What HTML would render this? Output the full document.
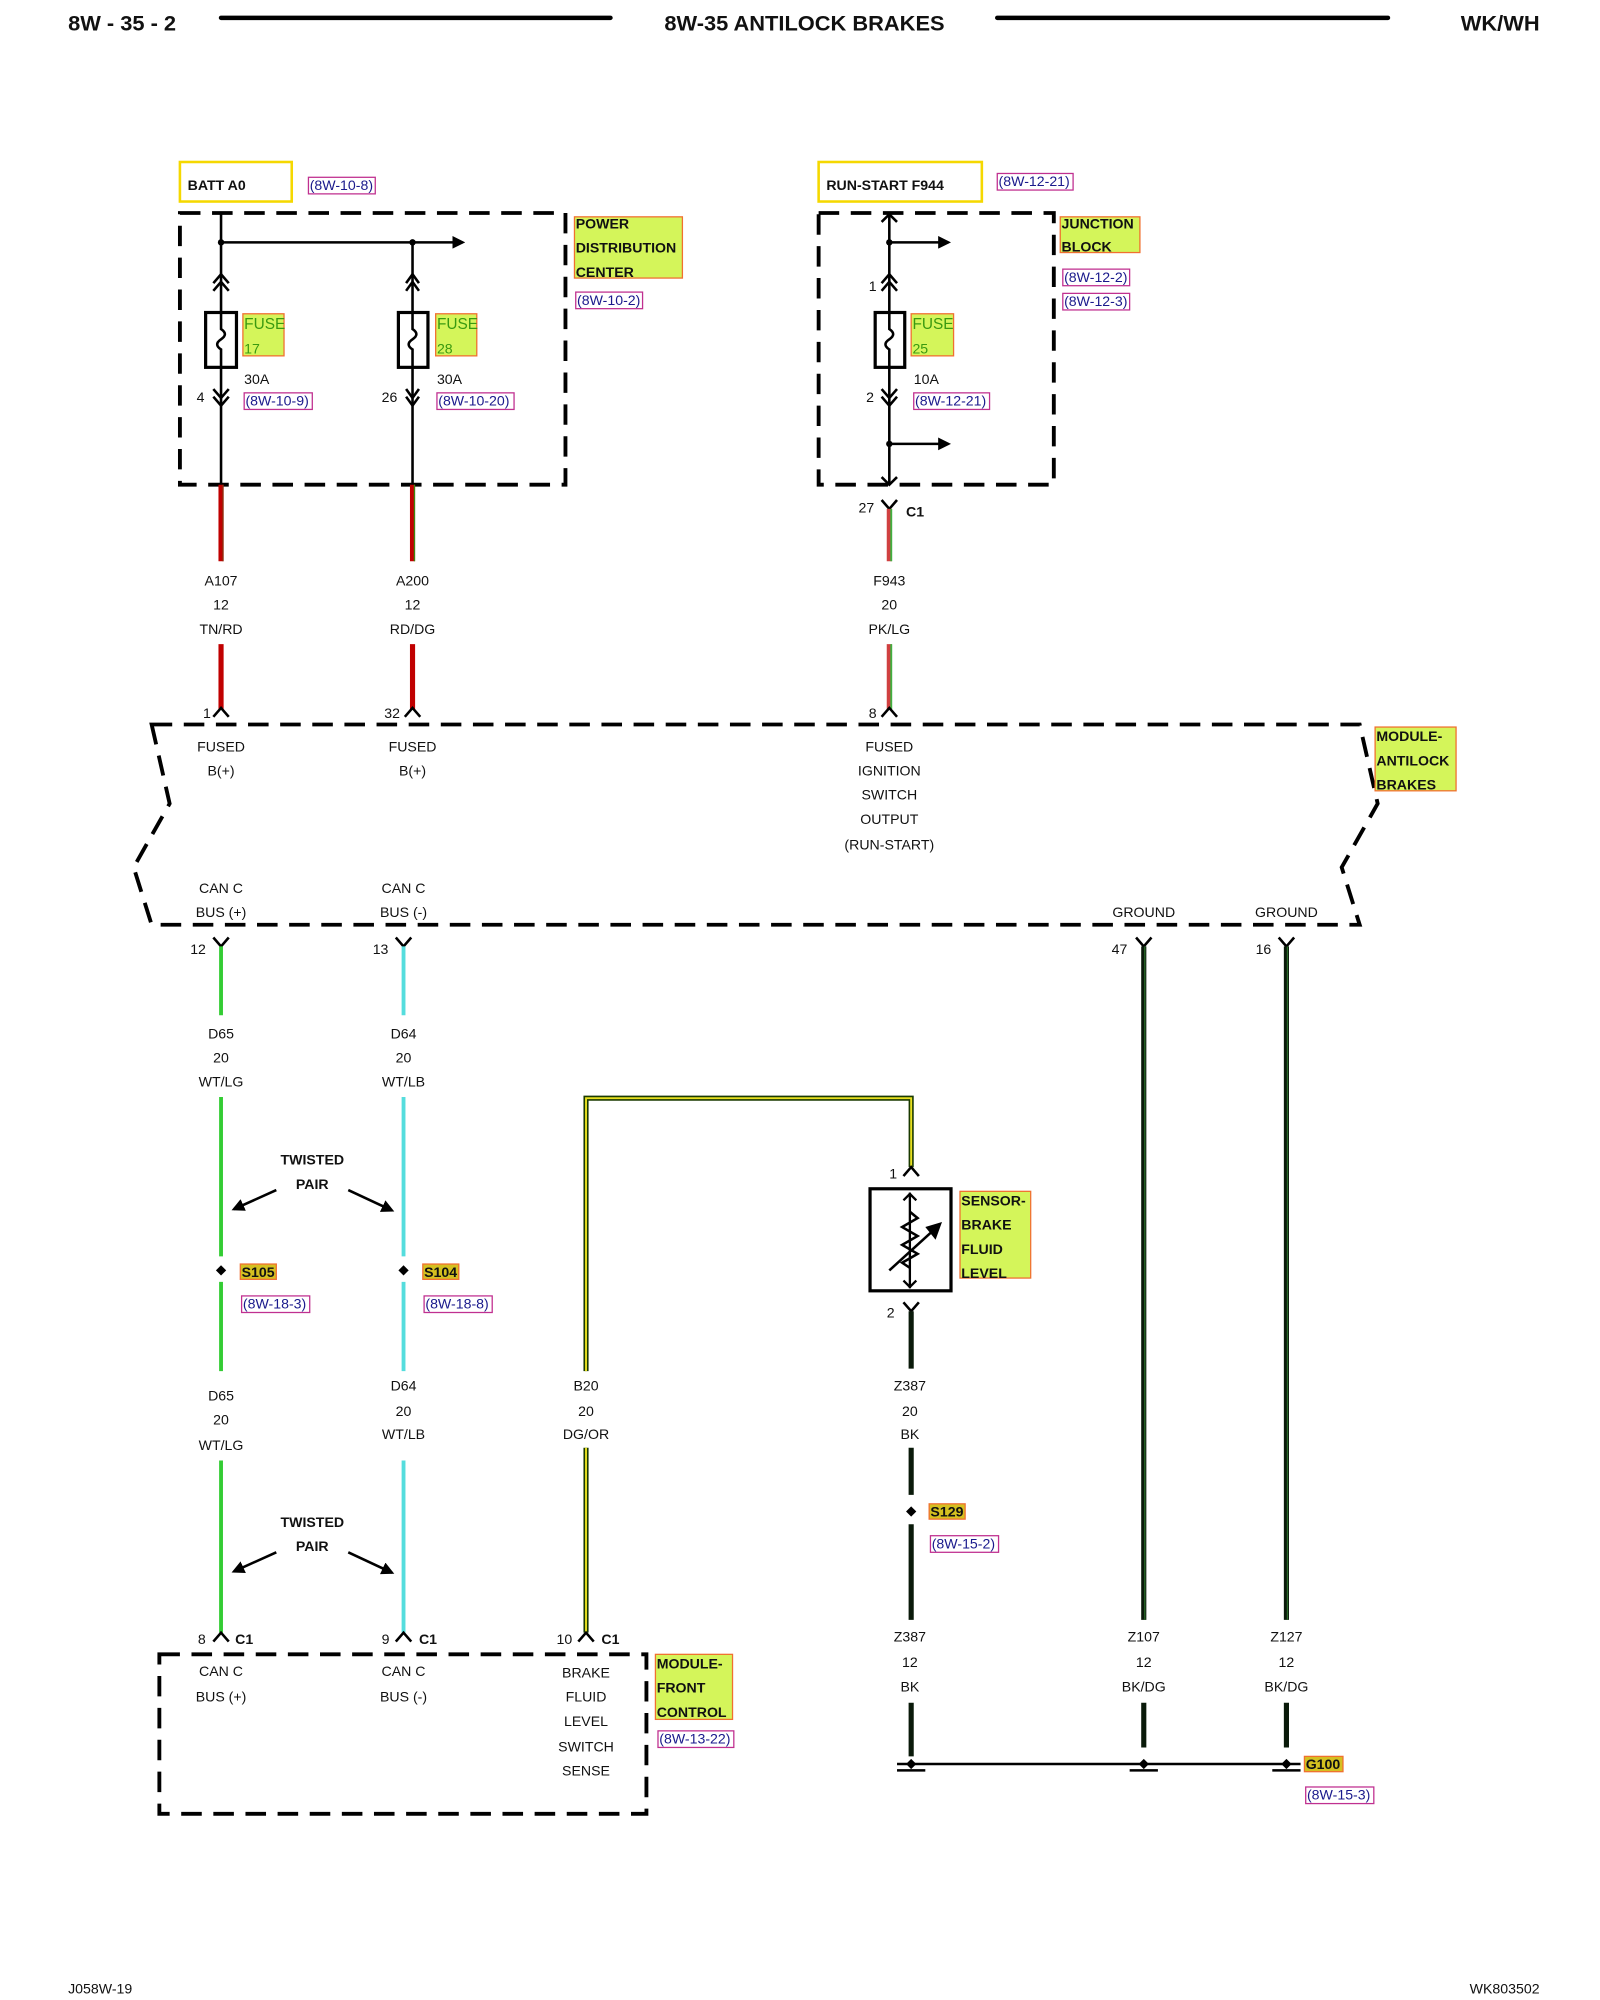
<!DOCTYPE html>
<html><head><meta charset="utf-8"><style>
html,body{margin:0;padding:0;background:#fff;width:1600px;height:2000px;overflow:hidden}
svg{display:block}
text{font-family:"Liberation Sans",sans-serif;fill:#111}
.b{font-weight:bold}
.c{text-anchor:middle}
.r{fill:#1a1a8c;font-size:11px}
.lb{font-size:11px;font-weight:bold}
</style></head><body>
<svg width="1600" height="2000" viewBox="0 0 1245 1568" preserveAspectRatio="none" xmlns="http://www.w3.org/2000/svg">
<defs>
<marker id="ah" markerWidth="10" markerHeight="10" refX="8" refY="5" orient="auto" markerUnits="userSpaceOnUse"><path d="M0,0 L10,5 L0,10 z" fill="#000"/></marker>
</defs>
<text x="53" y="24" class="b" font-size="17">8W - 35 - 2</text>
<line x1="172" y1="14" x2="475" y2="14" stroke="#000" stroke-width="3.5" stroke-linecap="round"/>
<text x="626" y="24" class="b c" font-size="17">8W-35 ANTILOCK BRAKES</text>
<line x1="776" y1="14" x2="1080" y2="14" stroke="#000" stroke-width="3.5" stroke-linecap="round"/>
<text x="1198" y="24" class="b" font-size="17" text-anchor="end">WK/WH</text>
<text x="53" y="1563" font-size="11">J058W-19</text>
<text x="1198" y="1563" font-size="11" text-anchor="end">WK803502</text>

<rect x="140" y="127" width="87" height="31" fill="#fff" stroke="#f5d800" stroke-width="2"/>
<text x="146" y="149" class="lb">BATT A0</text>
<rect x="240" y="139" width="52" height="13" fill="none" stroke="#c03090" stroke-width="1"/>
<text x="241" y="149" class="r">(8W-10-8)</text>
<rect x="140" y="167" width="300" height="213" fill="none" stroke="#000" stroke-width="3" stroke-dasharray="16,9"/>
<line x1="172" y1="190" x2="360" y2="190" stroke="#000" stroke-width="2" marker-end="url(#ah)"/>
<circle cx="172" cy="190" r="2.5"/><circle cx="321" cy="190" r="2.5"/>
<g stroke="#000" fill="none" stroke-width="2">
<line x1="172" y1="167" x2="172" y2="380"/><line x1="321" y1="190" x2="321" y2="380"/>
<polyline points="166,222 172,215 178,222"/><polyline points="166,228 172,221 178,228"/>
<polyline points="316,222 321,215 326,222"/><polyline points="316,228 321,221 326,228"/>
<polyline points="166,305 172,312 178,305"/><polyline points="166,311 172,318 178,311"/>
<polyline points="316,305 321,312 326,305"/><polyline points="316,311 321,318 326,311"/>
<rect x="160" y="245" width="24" height="43" fill="#fff" stroke-width="2.5"/>
<rect x="310" y="245" width="23" height="43" fill="#fff" stroke-width="2.5"/>
<path d="M172,245 V258 q6,4 0,8 q-6,4 0,8 V288"/><path d="M321,245 V258 q6,4 0,8 q-6,4 0,8 V288"/>
</g>
<rect x="189" y="246" width="32" height="33" fill="#d4f55a" stroke="#f07030"/>
<text x="190" y="258" font-size="12" style="fill:#3a9a10">FUSE</text><text x="190" y="277" font-size="11" style="fill:#3a9a10">17</text>
<rect x="339" y="246" width="32" height="33" fill="#d4f55a" stroke="#f07030"/>
<text x="340" y="258" font-size="12" style="fill:#3a9a10">FUSE</text><text x="340" y="277" font-size="11" style="fill:#3a9a10">28</text>
<text x="190" y="301" font-size="11">30A</text><text x="340" y="301" font-size="11">30A</text>
<rect x="190" y="308" width="53" height="13" fill="none" stroke="#c03090"/><text x="191" y="318" class="r">(8W-10-9)</text>
<rect x="340" y="308" width="60" height="13" fill="none" stroke="#c03090"/><text x="341" y="318" class="r">(8W-10-20)</text>
<text x="153" y="315" font-size="11">4</text><text x="297" y="315" font-size="11">26</text>
<rect x="447" y="170" width="84" height="48" fill="#d4f55a" stroke="#f07030"/>
<text x="448" y="179" class="lb">POWER</text><text x="448" y="198" class="lb">DISTRIBUTION</text><text x="448" y="217" class="lb">CENTER</text>
<rect x="448" y="229" width="52" height="13" fill="none" stroke="#c03090"/><text x="449" y="239" class="r">(8W-10-2)</text>

<rect x="637" y="127" width="127" height="31" fill="#fff" stroke="#f5d800" stroke-width="2"/>
<text x="643" y="149" class="lb">RUN-START F944</text>
<rect x="776" y="136" width="59" height="13" fill="none" stroke="#c03090"/><text x="777" y="146" class="r">(8W-12-21)</text>
<rect x="637" y="167" width="183" height="213" fill="none" stroke="#000" stroke-width="3" stroke-dasharray="16,9"/>
<g stroke="#000" fill="none" stroke-width="2">
<line x1="692" y1="168" x2="692" y2="380"/>
<polyline points="686,174 692,168 698,174"/>
<polyline points="686,374 692,380 698,374"/>
<polyline points="686,222 692,215 698,222"/><polyline points="686,228 692,221 698,228"/>
<polyline points="686,305 692,312 698,305"/><polyline points="686,311 692,318 698,311"/>
<rect x="681" y="245" width="23" height="43" fill="#fff" stroke-width="2.5"/>
<path d="M692,245 V258 q6,4 0,8 q-6,4 0,8 V288"/>
</g>
<line x1="692" y1="190" x2="738" y2="190" stroke="#000" stroke-width="2" marker-end="url(#ah)"/>
<line x1="692" y1="348" x2="738" y2="348" stroke="#000" stroke-width="2" marker-end="url(#ah)"/>
<circle cx="692" cy="190" r="2.5"/><circle cx="692" cy="348" r="2.5"/>
<rect x="709" y="246" width="33" height="33" fill="#d4f55a" stroke="#f07030"/>
<text x="710" y="258" font-size="12" style="fill:#3a9a10">FUSE</text><text x="710" y="277" font-size="11" style="fill:#3a9a10">25</text>
<text x="711" y="301" font-size="11">10A</text>
<rect x="711" y="308" width="59" height="13" fill="none" stroke="#c03090"/><text x="712" y="318" class="r">(8W-12-21)</text>
<text x="676" y="228" font-size="11">1</text><text x="674" y="315" font-size="11">2</text>
<rect x="825" y="170" width="62" height="28" fill="#d4f55a" stroke="#f07030"/>
<text x="826" y="179" class="lb">JUNCTION</text><text x="826" y="197" class="lb">BLOCK</text>
<rect x="827" y="211" width="52" height="13" fill="none" stroke="#c03090"/><text x="828" y="221" class="r">(8W-12-2)</text>
<rect x="827" y="230" width="52" height="13" fill="none" stroke="#c03090"/><text x="828" y="240" class="r">(8W-12-3)</text>
<polyline points="686,392 692,399 698,392" stroke="#000" stroke-width="2" fill="none"/>
<text x="668" y="402" font-size="11">27</text><text x="705" y="405" class="lb">C1</text>

<g stroke-width="4">
<line x1="172" y1="380" x2="172" y2="440" stroke="#c00000"/><line x1="321" y1="380" x2="321" y2="440" stroke="#c00000"/>
<line x1="172" y1="505" x2="172" y2="556" stroke="#c00000"/><line x1="321" y1="505" x2="321" y2="556" stroke="#c00000"/>
<line x1="692" y1="399" x2="692" y2="440" stroke="#d04040"/><line x1="692" y1="505" x2="692" y2="556" stroke="#d04040"/>
</g>
<line x1="173.5" y1="380" x2="173.5" y2="440" stroke="#8a3010" stroke-width="1"/><line x1="322.5" y1="380" x2="322.5" y2="440" stroke="#3a8a10" stroke-width="1"/>
<line x1="693.5" y1="399" x2="693.5" y2="440" stroke="#40b040" stroke-width="1.5"/><line x1="693.5" y1="505" x2="693.5" y2="556" stroke="#40b040" stroke-width="1.5"/>
<g font-size="11" text-anchor="middle">
<text x="172" y="459">A107</text><text x="172" y="478">12</text><text x="172" y="497">TN/RD</text>
<text x="321" y="459">A200</text><text x="321" y="478">12</text><text x="321" y="497">RD/DG</text>
<text x="692" y="459">F943</text><text x="692" y="478">20</text><text x="692" y="497">PK/LG</text>
</g>
<g stroke="#000" fill="none" stroke-width="2">
<polyline points="166,562 172,555 178,562"/><polyline points="315,562 321,555 327,562"/><polyline points="686,562 692,555 698,562"/>
</g>
<text x="158" y="563" font-size="11">1</text><text x="299" y="563" font-size="11">32</text><text x="676" y="563" font-size="11">8</text>

<path d="M118,568 H1058 L1072,630 L1044,680 L1058,725 H118 L104,680 L132,630 Z" fill="none" stroke="#000" stroke-width="3" stroke-dasharray="16,9"/>
<rect x="1070" y="570" width="63" height="50" fill="#d4f55a" stroke="#f07030"/>
<text x="1071" y="581" class="lb">MODULE-</text><text x="1071" y="600" class="lb">ANTILOCK</text><text x="1071" y="619" class="lb">BRAKES</text>
<g font-size="11" text-anchor="middle">
<text x="172" y="589">FUSED</text><text x="172" y="608">B(+)</text>
<text x="321" y="589">FUSED</text><text x="321" y="608">B(+)</text>
<text x="692" y="589">FUSED</text><text x="692" y="608">IGNITION</text><text x="692" y="627">SWITCH</text><text x="692" y="646">OUTPUT</text><text x="692" y="666">(RUN-START)</text>
<text x="172" y="700">CAN C</text><text x="172" y="719">BUS (+)</text>
<text x="314" y="700">CAN C</text><text x="314" y="719">BUS (-)</text>
<text x="890" y="719">GROUND</text><text x="1001" y="719">GROUND</text>
</g>
<g stroke="#000" fill="none" stroke-width="2">
<polyline points="166,735 172,742 178,735"/><polyline points="308,735 314,742 320,735"/><polyline points="884,735 890,742 896,735"/><polyline points="995,735 1001,742 1007,735"/>
</g>
<text x="148" y="748" font-size="11">12</text><text x="290" y="748" font-size="11">13</text><text x="865" y="748" font-size="11">47</text><text x="977" y="748" font-size="11">16</text>

<g stroke-width="3">
<g stroke="#33cc33"><line x1="172" y1="742" x2="172" y2="796"/><line x1="172" y1="860" x2="172" y2="985"/><line x1="172" y1="1005" x2="172" y2="1075"/><line x1="172" y1="1145" x2="172" y2="1280"/></g>
<g stroke="#55dddd"><line x1="314" y1="742" x2="314" y2="796"/><line x1="314" y1="860" x2="314" y2="985"/><line x1="314" y1="1005" x2="314" y2="1075"/><line x1="314" y1="1145" x2="314" y2="1280"/></g>
</g>
<g font-size="11" text-anchor="middle">
<text x="172" y="814">D65</text><text x="172" y="833">20</text><text x="172" y="852">WT/LG</text>
<text x="314" y="814">D64</text><text x="314" y="833">20</text><text x="314" y="852">WT/LB</text>
<text x="172" y="1098">D65</text><text x="172" y="1117">20</text><text x="172" y="1137">WT/LG</text>
<text x="314" y="1090">D64</text><text x="314" y="1110">20</text><text x="314" y="1128">WT/LB</text>
<text x="456" y="1090">B20</text><text x="456" y="1110">20</text><text x="456" y="1128">DG/OR</text>
<text x="708" y="1090">Z387</text><text x="708" y="1110">20</text><text x="708" y="1128">BK</text>
<text x="708" y="1287">Z387</text><text x="708" y="1307">12</text><text x="708" y="1326">BK</text>
<text x="890" y="1287">Z107</text><text x="890" y="1307">12</text><text x="890" y="1326">BK/DG</text>
<text x="1001" y="1287">Z127</text><text x="1001" y="1307">12</text><text x="1001" y="1326">BK/DG</text>
</g>
<g class="lb" text-anchor="middle"><text x="243" y="913">TWISTED</text><text x="243" y="932">PAIR</text><text x="243" y="1197">TWISTED</text><text x="243" y="1216">PAIR</text></g>
<g stroke="#000" stroke-width="2" marker-end="url(#ah)">
<line x1="215" y1="933" x2="182" y2="948"/><line x1="271" y1="933" x2="305" y2="949"/>
<line x1="215" y1="1217" x2="182" y2="1232"/><line x1="271" y1="1217" x2="305" y2="1233"/>
</g>
<path d="M172,992 l4,4 -4,4 -4,-4z"/><path d="M314,992 l4,4 -4,4 -4,-4z"/><path d="M709,1181 l4,4 -4,4 -4,-4z"/>
<rect x="187" y="991" width="28" height="12" fill="#d4c020" stroke="#f07030"/><text x="188" y="1001" class="lb">S105</text>
<rect x="329" y="991" width="28" height="12" fill="#d4c020" stroke="#f07030"/><text x="330" y="1001" class="lb">S104</text>
<rect x="723" y="1179" width="28" height="12" fill="#d4c020" stroke="#f07030"/><text x="724" y="1189" class="lb">S129</text>
<rect x="1015" y="1377" width="30" height="12" fill="#d4c020" stroke="#f07030"/><text x="1016" y="1387" class="lb">G100</text>
<rect x="188" y="1016" width="53" height="13" fill="none" stroke="#c03090"/><text x="189" y="1026" class="r">(8W-18-3)</text>
<rect x="330" y="1016" width="53" height="13" fill="none" stroke="#c03090"/><text x="331" y="1026" class="r">(8W-18-8)</text>
<rect x="724" y="1204" width="53" height="13" fill="none" stroke="#c03090"/><text x="725" y="1214" class="r">(8W-15-2)</text>
<rect x="1016" y="1401" width="53" height="13" fill="none" stroke="#c03090"/><text x="1017" y="1411" class="r">(8W-15-3)</text>

<path d="M456,1075 V861 H709 V915" fill="none" stroke="#1a3a00" stroke-width="4"/>
<path d="M456,1075 V861 H709 V915" fill="none" stroke="#e8e020" stroke-width="1.5"/>
<line x1="456" y1="1135" x2="456" y2="1280" stroke="#1a3a00" stroke-width="4"/>
<line x1="456" y1="1135" x2="456" y2="1280" stroke="#e8e020" stroke-width="1.5"/>

<polyline points="703,922 709,915 715,922" stroke="#000" stroke-width="2" fill="none"/>
<text x="692" y="924" font-size="11">1</text>
<rect x="677" y="932" width="63" height="80" fill="#fff" stroke="#000" stroke-width="2.5"/>
<g stroke="#000" fill="none" stroke-width="1.8">
<line x1="708" y1="935" x2="708" y2="1010"/>
<polyline points="703,941 708,936 713,941"/><polyline points="703,1004 708,1009 713,1004"/>
<polyline points="708,950 714,955 702,962 714,969 702,976 714,983 702,990 708,994" stroke-width="2"/>
<line x1="692" y1="996" x2="728" y2="963" stroke-width="2"/>
</g>
<path d="M733,958 L720,962 L728,972 z"/>
<rect x="747" y="934" width="55" height="68" fill="#d4f55a" stroke="#f07030"/>
<text x="748" y="945" class="lb">SENSOR-</text><text x="748" y="964" class="lb">BRAKE</text><text x="748" y="983" class="lb">FLUID</text><text x="748" y="1002" class="lb">LEVEL</text>
<polyline points="703,1021 709,1028 715,1021" stroke="#000" stroke-width="2" fill="none"/>
<text x="690" y="1033" font-size="11">2</text>

<g stroke="#0a1a0a" stroke-width="4">
<line x1="709" y1="1028" x2="709" y2="1073"/><line x1="709" y1="1135" x2="709" y2="1172"/><line x1="709" y1="1195" x2="709" y2="1270"/><line x1="709" y1="1335" x2="709" y2="1377"/>
<line x1="890" y1="742" x2="890" y2="1270"/><line x1="890" y1="1335" x2="890" y2="1370"/>
<line x1="1001" y1="742" x2="1001" y2="1270"/><line x1="1001" y1="1335" x2="1001" y2="1370"/>
</g>
<line x1="890.8" y1="742" x2="890.8" y2="1270" stroke="#2a6a2a" stroke-width="1"/><line x1="1001.8" y1="742" x2="1001.8" y2="1270" stroke="#2a6a2a" stroke-width="1"/>
<line x1="698" y1="1383" x2="1012" y2="1383" stroke="#000" stroke-width="2"/>
<g stroke="#000" stroke-width="2"><line x1="698" y1="1388" x2="720" y2="1388"/><line x1="879" y1="1388" x2="901" y2="1388"/><line x1="990" y1="1388" x2="1012" y2="1388"/></g>
<path d="M709,1379 l4,4 -4,4 -4,-4z"/><path d="M890,1379 l4,4 -4,4 -4,-4z"/><path d="M1001,1379 l4,4 -4,4 -4,-4z"/>

<g stroke="#000" fill="none" stroke-width="2">
<polyline points="166,1287 172,1280 178,1287"/><polyline points="308,1287 314,1280 320,1287"/><polyline points="450,1287 456,1280 462,1287"/>
</g>
<text x="154" y="1289" font-size="11">8</text><text x="183" y="1289" class="lb">C1</text>
<text x="297" y="1289" font-size="11">9</text><text x="326" y="1289" class="lb">C1</text>
<text x="433" y="1289" font-size="11">10</text><text x="468" y="1289" class="lb">C1</text>
<rect x="124" y="1297" width="379" height="125" fill="none" stroke="#000" stroke-width="3" stroke-dasharray="16,9"/>
<g font-size="11" text-anchor="middle">
<text x="172" y="1314">CAN C</text><text x="172" y="1334">BUS (+)</text>
<text x="314" y="1314">CAN C</text><text x="314" y="1334">BUS (-)</text>
<text x="456" y="1315">BRAKE</text><text x="456" y="1334">FLUID</text><text x="456" y="1353">LEVEL</text><text x="456" y="1373">SWITCH</text><text x="456" y="1392">SENSE</text>
</g>
<rect x="510" y="1297" width="60" height="51" fill="#d4f55a" stroke="#f07030"/>
<text x="511" y="1308" class="lb">MODULE-</text><text x="511" y="1327" class="lb">FRONT</text><text x="511" y="1346" class="lb">CONTROL</text>
<rect x="512" y="1357" width="59" height="13" fill="none" stroke="#c03090"/><text x="513" y="1367" class="r">(8W-13-22)</text>
</svg>
</body></html>
